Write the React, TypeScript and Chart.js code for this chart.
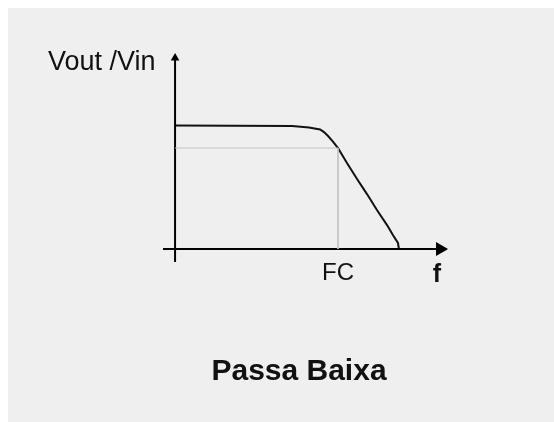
import React, { useEffect, useRef } from "react";
import { Chart, registerables } from "chart.js";

Chart.register(...registerables);

// Normalized frequency (Fc = 1) and gain Vout/Vin (passband = 1)
const curveFreq = [0, 0.718, 0.822, 0.89, 0.914, 0.939, 0.969, 1.0, 1.055, 1.117, 1.178, 1.239, 1.301, 1.337, 1.368, 1.374];
const curveGain = [1.0, 0.996, 0.984, 0.968, 0.947, 0.915, 0.87, 0.818, 0.696, 0.567, 0.445, 0.316, 0.194, 0.113, 0.049, 0];

const cutoffFreq = 1.0;
const cutoffGain = 0.818;

const xMin = -0.074;
const xMax = 1.626;
const yMin = -0.105;
const yMax = 1.547;

const yAxisLabel = "Vout /Vin";
const cutoffLabel = "FC";
const xAxisLabel = "f";
const chartTitle = "Passa Baixa";

export default function App() {
  const ref = useRef<HTMLCanvasElement | null>(null);

  useEffect(() => {
    if (!ref.current) return;
    const labelsPlugin = {
      id: "labelsPlugin",
      beforeDraw(chart: any) {
        const ctx = chart.ctx;
        ctx.save();
        ctx.fillStyle = "#efefef";
        ctx.fillRect(0, 0, chart.width, chart.height);
        ctx.restore();
      },
      afterDatasetsDraw(chart: any) {
        const ctx = chart.ctx;
        const xs = chart.scales.x;
        const ys = chart.scales.y;
        ctx.save();
        ctx.fillStyle = "#111";
        ctx.textBaseline = "alphabetic";
        ctx.font = '27px "Liberation Sans", Arial, sans-serif';
        ctx.textAlign = "left";
        ctx.fillText(yAxisLabel, 40, ys.getPixelForValue(yMax) + 12);
        ctx.textAlign = "center";
        ctx.font = '24px "Liberation Sans", Arial, sans-serif';
        ctx.fillText(cutoffLabel, xs.getPixelForValue(cutoffFreq), ys.getPixelForValue(0) + 31);
        ctx.font = 'bold 25px "Liberation Sans", Arial, sans-serif';
        ctx.fillText(xAxisLabel, xs.getPixelForValue(1.607), ys.getPixelForValue(0) + 33);
        ctx.font = 'bold 30px "Liberation Sans", Arial, sans-serif';
        ctx.fillText(chartTitle, 291, 372);
        ctx.restore();
      },
    };

    const chart = new Chart(ref.current, {
      type: "scatter",
      data: {
        datasets: [
          {
            label: "cutoff",
            data: [
              { x: 0, y: cutoffGain },
              { x: cutoffFreq, y: cutoffGain },
              { x: cutoffFreq, y: 0 },
            ],
            showLine: true,
            borderColor: "#c4c4c4",
            borderWidth: 1,
            pointRadius: 0,
            clip: false,
          },
          {
            label: "xAxis",
            data: [
              { x: xMin, y: 0 },
              { x: xMax, y: 0 },
            ],
            showLine: true,
            borderColor: "#000",
            borderWidth: 2,
            pointRadius: [0, 6],
            pointStyle: "triangle",
            rotation: 90,
            pointBackgroundColor: "#000",
            pointBorderColor: "#000",
            clip: false,
          },
          {
            label: "yAxis",
            data: [
              { x: 0, y: yMin },
              { x: 0, y: yMax },
            ],
            showLine: true,
            borderColor: "#000",
            borderWidth: 2,
            pointRadius: [0, 3],
            pointStyle: "triangle",
            pointBackgroundColor: "#000",
            pointBorderColor: "#000",
            clip: false,
          },
          {
            label: "Vout/Vin",
            data: curveFreq.map((f, i) => ({ x: f, y: curveGain[i] })),
            showLine: true,
            borderColor: "#111",
            borderWidth: 2,
            pointRadius: 0,
            tension: 0,
            clip: false,
          },
        ],
      },
      options: {
        animation: false,
        responsive: false,
        maintainAspectRatio: false,
        layout: { padding: { left: 155, right: 114, top: 50, bottom: 160 } },
        plugins: { legend: { display: false }, tooltip: { enabled: false }, title: { display: false } },
        scales: {
          x: { type: "linear", min: xMin, max: xMax, display: false },
          y: { type: "linear", min: yMin, max: yMax, display: false },
        },
      },
      plugins: [labelsPlugin],
    });
    return () => chart.destroy();
  }, []);

  return (
    <canvas
      ref={ref}
      width={546}
      height={414}
      style={{ display: "block", position: "fixed", left: 8, top: 8 }}
    />
  );
}
